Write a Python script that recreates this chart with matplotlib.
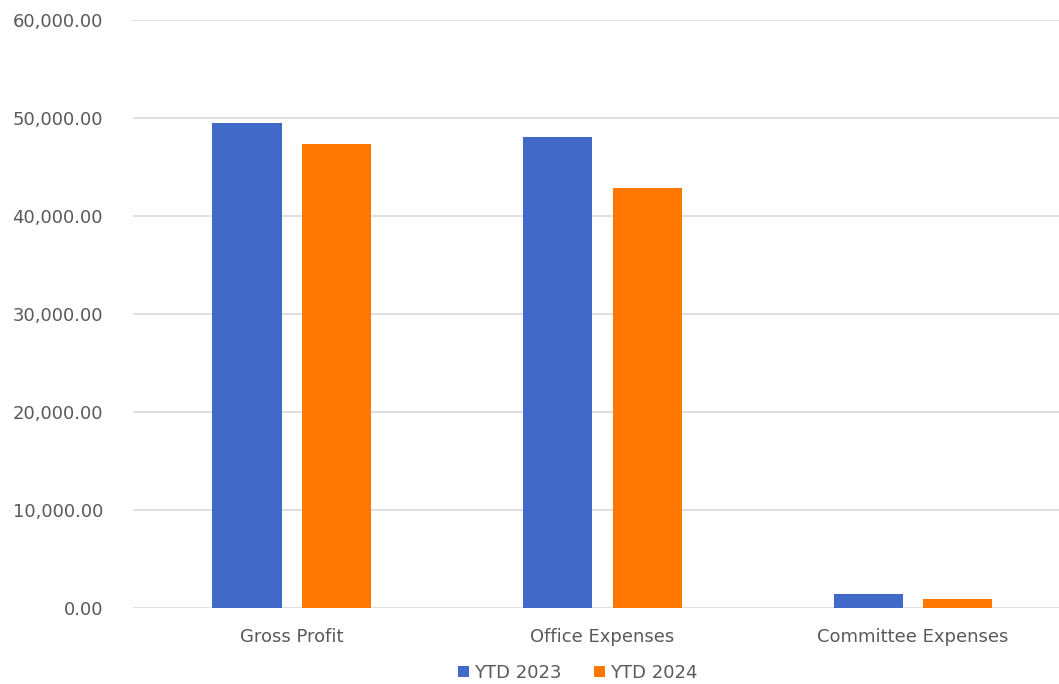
import matplotlib.pyplot as plt
import numpy as np

categories = ['Gross Profit', 'Office Expenses', 'Committee Expenses']
ytd_2023 = [49500, 48000, 1400]
ytd_2024 = [47300, 42800, 900]
series_names = ['YTD 2023', 'YTD 2024']
colors = ['#4169C8', '#FF7700']

fig = plt.figure(figsize=(10.59, 6.84), dpi=100)
ax = fig.add_axes([0.126, 0.111, 0.874, 0.86])

x = np.arange(len(categories))
w = 0.223
ax.bar(x - 0.144, ytd_2023, w, color=colors[0], label=series_names[0], zorder=3)
ax.bar(x + 0.144, ytd_2024, w, color=colors[1], label=series_names[1], zorder=3)

ax.set_xlim(-0.51, 2.47)
ax.set_ylim(0, 60000)
ax.set_yticks(np.arange(0, 60001, 10000))
ax.set_yticklabels([f'{v:,.2f}' for v in np.arange(0, 60001, 10000)])
ax.set_xticks(x)
ax.set_xticklabels(categories)
ax.tick_params(axis='both', length=0, colors='#595959', labelsize=13)
ax.tick_params(axis='y', pad=22)
ax.tick_params(axis='x', pad=14)
ax.grid(axis='y', color='#D9D9D9', linewidth=1.2, zorder=0)
for s in ax.spines.values():
    s.set_visible(False)

leg = ax.legend(loc='lower center', bbox_to_anchor=(0.48, -0.153), ncol=2, frameon=False,
                fontsize=13, handlelength=0.6, handleheight=0.6, handletextpad=0.3,
                columnspacing=1.8, labelcolor='#595959')

fig.savefig('out.png', dpi=100)
